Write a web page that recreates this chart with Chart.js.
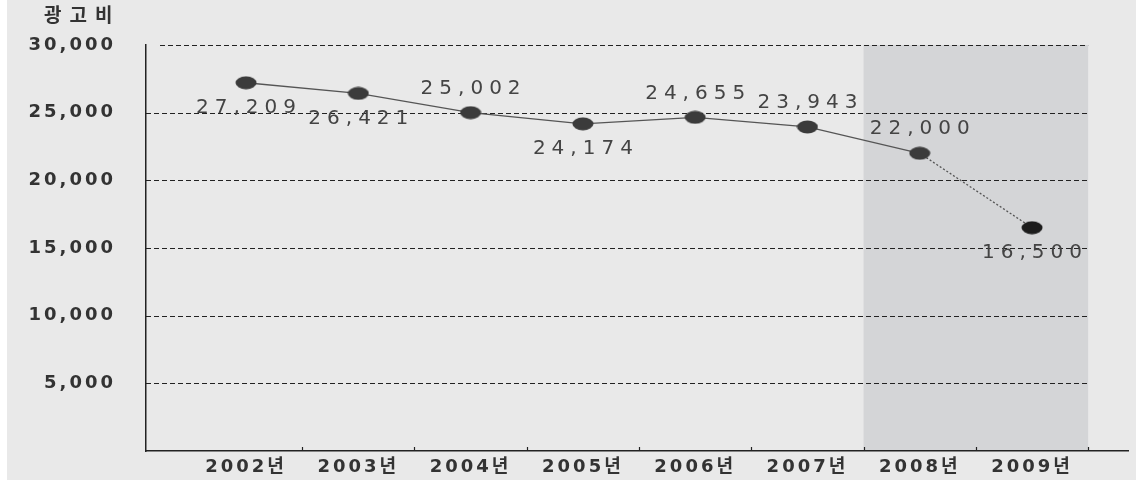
<!DOCTYPE html>
<html lang="ko">
<head>
<meta charset="utf-8">
<title>광고비</title>
<script src="https://cdn.jsdelivr.net/npm/chart.js@4/dist/chart.umd.min.js"></script>
<style>
    html, body { margin: 0; padding: 0; background: #fff; }
    #wrap { width: 1136px; height: 480px; }
</style>
</head>
<body>
<div id="wrap"><canvas id="adChart" width="1136" height="480"></canvas></div>
<script>
// ── Data ─────────────────────────────────────
const years = ['2002년', '2003년', '2004년', '2005년', '2006년', '2007년', '2008년', '2009년'];
const adSpend = [27209, 26421, 25002, 24174, 24655, 23943, 22000, 16500];
const yTicks = [5000, 10000, 15000, 20000, 25000, 30000];
const forecastFrom = 6;          // 2008년 onward is shaded, last segment dotted
const labelSide = ['below', 'below', 'above', 'below', 'above', 'above', 'above', 'below'];

const fmt = v => v.toLocaleString('en-US');
const FONT = "'DejaVu Sans', 'Noto Sans CJK KR', sans-serif";

// ellipse-shaped markers
function dot(color) {
    const c = document.createElement('canvas');
    c.width = 22; c.height = 14;
    const g = c.getContext('2d');
    g.fillStyle = color;
    g.beginPath();
    g.ellipse(11, 7, 10.5, 6.5, 0, 0, Math.PI * 2);
    g.fill();
    return c;
}
const dotGrey = dot('#3b3b3b');
const dotBlack = dot('#1c1c1c');

// ── Background, shading, grid, ticks, labels ──
const decor = {
    id: 'decor',
    beforeDraw(chart) {
        const { ctx, chartArea: a, scales: { x, y } } = chart;
        ctx.save();
        ctx.fillStyle = '#e9e9e9';
        ctx.fillRect(7, 0, chart.width - 7, chart.height);

        // shaded forecast band
        const sx0 = x.getPixelForValue(forecastFrom - 0.5);
        const sx1 = x.getPixelForValue(years.length - 0.5);
        ctx.fillStyle = '#d4d5d7';
        ctx.fillRect(sx0, a.top, sx1 - sx0, a.bottom - a.top);

        // dashed horizontal grid
        ctx.strokeStyle = '#222';
        ctx.lineWidth = 1;
        ctx.setLineDash([5, 3]);
        yTicks.forEach(v => {
            const py = Math.round(y.getPixelForValue(v)) + 0.5;
            ctx.beginPath();
            ctx.moveTo(a.left + (v === 30000 ? 14 : 0), py);
            ctx.lineTo(sx1, py);
            ctx.stroke();
        });
        ctx.setLineDash([]);

        // small tick marks between categories
        ctx.lineWidth = 1.2;
        for (let i = 0; i < years.length; i++) {
            const px = Math.round(x.getPixelForValue(i + 0.5)) + 0.5;
            ctx.beginPath();
            ctx.moveTo(px, a.bottom);
            ctx.lineTo(px, a.bottom - 4);
            ctx.stroke();
        }

        // axis title
        ctx.fillStyle = '#333';
        ctx.font = 'bold 19px ' + FONT;
        ctx.letterSpacing = '8px';
        ctx.textBaseline = 'middle';
        ctx.textAlign = 'left';
        ctx.fillText('광고비', 44, 17);
        ctx.restore();

        ctx.letterSpacing = '3px';
    },
    afterDatasetsDraw(chart) {
        const { ctx } = chart;
        const pts = chart.getDatasetMeta(0).data;
        ctx.save();
        ctx.font = '20px ' + FONT;
        ctx.letterSpacing = '6px';
        ctx.fillStyle = '#444';
        ctx.textAlign = 'center';
        ctx.textBaseline = 'middle';
        pts.forEach((p, i) => {
            const dy = labelSide[i] === 'above' ? -24 : 25;
            ctx.fillText(fmt(adSpend[i]), p.x + 3, p.y + dy);
        });
        ctx.restore();
    }
};

// ── Chart ────────────────────────────────────
new Chart(document.getElementById('adChart'), {
    type: 'line',
    data: {
        datasets: [{
            data: adSpend.map((v, i) => ({ x: i, y: v })),
            borderColor: '#555',
            borderWidth: 1.3,
            tension: 0,
            pointStyle: adSpend.map((_, i) => i === adSpend.length - 1 ? dotBlack : dotGrey),
            segment: {
                borderDash: c => c.p0DataIndex >= forecastFrom ? [2, 2] : undefined,
            },
        }],
    },
    plugins: [decor],
    options: {
        responsive: false,
        animation: false,
        layout: { padding: { left: 0, right: 8, top: 45, bottom: 0 } },
        plugins: { legend: { display: false }, tooltip: { enabled: false } },
        scales: {
            x: {
                type: 'linear',
                min: -0.891,
                max: 7.855,
                afterBuildTicks: s => { s.ticks = years.map((_, i) => ({ value: i })); },
                afterFit: s => { s.height = 29; },
                ticks: {
                    callback: v => years[v],
                    color: '#333',
                    padding: 6,
                    font: { family: FONT, size: 18, weight: 'bold' },
                },
                grid: { color: 'transparent', drawTicks: false },
                border: { color: '#222', width: 1.5 },
            },
            y: {
                min: 0,
                max: 30000,
                afterBuildTicks: s => { s.ticks = yTicks.map(v => ({ value: v })); },
                afterFit: s => {
                    s.width = 146;
                    // the wide label gap must not push the plot down
                    s.paddingTop = 0;
                    s.paddingBottom = 0;
                },
                ticks: {
                    callback: v => fmt(v),
                    color: '#333',
                    padding: 30,
                    font: { family: FONT, size: 18, weight: 'bold' },
                },
                grid: { color: 'transparent', drawTicks: false },
                border: { color: '#222', width: 1.5 },
            },
        },
    },
});
</script>
</body>
</html>
